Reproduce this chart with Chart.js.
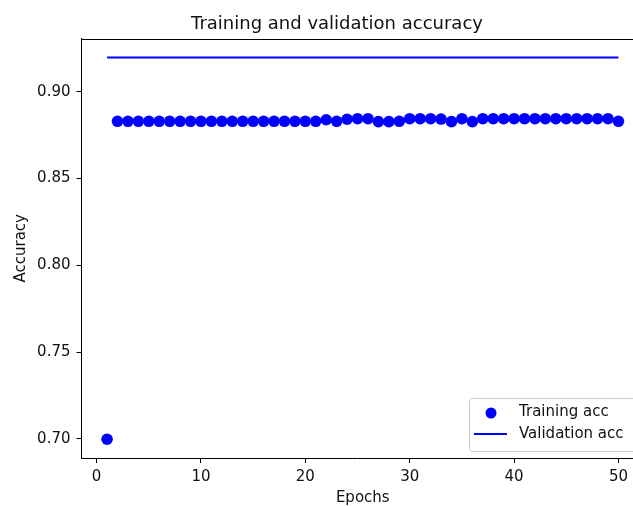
<!DOCTYPE html>
<html>
<head>
<meta charset="utf-8">
<script src="https://cdn.jsdelivr.net/npm/chart.js@4/dist/chart.umd.min.js"></script>
<style>
  html, body { margin: 0; padding: 0; background: #fff; overflow: hidden; }
  canvas { display: block; }
</style>
</head>
<body>
<canvas id="chart" width="633" height="506"></canvas>
<script>
const epochs = [1, 2, 3, 4, 5, 6, 7, 8, 9, 10, 11, 12, 13, 14, 15, 16, 17, 18, 19, 20,
    21, 22, 23, 24, 25, 26, 27, 28, 29, 30, 31, 32, 33, 34, 35, 36, 37, 38, 39, 40,
    41, 42, 43, 44, 45, 46, 47, 48, 49, 50];

const trainingAcc = [0.6998, 0.8829, 0.8829, 0.8829, 0.8829, 0.8829, 0.8829, 0.8829, 0.8829, 0.8829,
    0.8829, 0.8829, 0.8829, 0.8829, 0.8829, 0.8829, 0.8829, 0.8829, 0.8829, 0.8829,
    0.8829, 0.8838, 0.8829, 0.8841, 0.8844, 0.8844, 0.8827, 0.8827, 0.8829, 0.8844,
    0.8844, 0.8844, 0.8842, 0.8827, 0.8844, 0.8827, 0.8844, 0.8844, 0.8844, 0.8844,
    0.8844, 0.8844, 0.8844, 0.8844, 0.8844, 0.8844, 0.8844, 0.8844, 0.8844, 0.8829];

const validationAcc = [0.9196, 0.9196, 0.9196, 0.9196, 0.9196, 0.9196, 0.9196, 0.9196, 0.9196, 0.9196,
    0.9196, 0.9196, 0.9196, 0.9196, 0.9196, 0.9196, 0.9196, 0.9196, 0.9196, 0.9196,
    0.9196, 0.9196, 0.9196, 0.9196, 0.9196, 0.9196, 0.9196, 0.9196, 0.9196, 0.9196,
    0.9196, 0.9196, 0.9196, 0.9196, 0.9196, 0.9196, 0.9196, 0.9196, 0.9196, 0.9196,
    0.9196, 0.9196, 0.9196, 0.9196, 0.9196, 0.9196, 0.9196, 0.9196, 0.9196, 0.9196];

const xTicks = [0, 10, 20, 30, 40, 50];
const yTicks = [0.70, 0.75, 0.80, 0.85, 0.90];

const FONT = 'DejaVu Sans';
const INK = '#111';
const AXES_RIGHT = 644; // the original axes run past the cropped right edge

// stretch the plot area past the canvas edge, like the cropped original
const cropRight = {
    id: 'cropRight',
    afterLayout(chart) {
        const x = chart.scales.x;
        x.right = AXES_RIGHT;
        x.width = x.right - x.left;
        x.configure();
        chart.chartArea.right = AXES_RIGHT;
        chart.chartArea.width = AXES_RIGHT - chart.chartArea.left;
    }
};

// matplotlib-like title, top spine and legend
const extras = {
    id: 'extras',
    afterDatasetsDraw(chart) {
        const ctx = chart.ctx;
        const a = chart.chartArea;
        ctx.save();
        ctx.fillStyle = '#000';
        ctx.fillRect(Math.round(a.left), Math.round(a.top), chart.width - Math.round(a.left), 1);

        // title
        ctx.fillStyle = INK;
        ctx.font = '18px "' + FONT + '"';
        ctx.textAlign = 'center';
        ctx.textBaseline = 'middle';
        ctx.fillText('Training and validation accuracy', 337, 24);

        // legend box, open on the cropped right side
        const bx = 469.5, by = 398.5, bh = 53, r = 3, bxR = chart.width + 2;
        ctx.fillStyle = 'rgba(255,255,255,0.8)';
        ctx.strokeStyle = '#cccccc';
        ctx.lineWidth = 1;
        ctx.beginPath();
        ctx.moveTo(bxR, by);
        ctx.lineTo(bx + r, by);
        ctx.arcTo(bx, by, bx, by + r, r);
        ctx.lineTo(bx, by + bh - r);
        ctx.arcTo(bx, by + bh, bx + r, by + bh, r);
        ctx.lineTo(bxR, by + bh);
        ctx.fill();
        ctx.stroke();

        const ds = chart.data.datasets;
        ctx.font = '15px "' + FONT + '"';
        ctx.textAlign = 'left';
        ctx.textBaseline = 'middle';
        // training entry: marker
        ctx.fillStyle = ds[0].backgroundColor;
        ctx.beginPath();
        ctx.arc(491, 413, 5.5, 0, Math.PI * 2);
        ctx.fill();
        ctx.fillStyle = INK;
        ctx.fillText(ds[0].label, 519, 412);
        // validation entry: line
        ctx.strokeStyle = ds[1].borderColor;
        ctx.lineWidth = 2;
        ctx.beginPath();
        ctx.moveTo(474, 434);
        ctx.lineTo(507, 434);
        ctx.stroke();
        ctx.fillText(ds[1].label, 519, 434);
        ctx.restore();
    }
};

new Chart(document.getElementById('chart'), {
    type: 'line',
    data: {
        datasets: [
            {
                label: 'Training acc',
                data: epochs.map((e, i) => ({ x: e, y: trainingAcc[i] })),
                showLine: false,
                pointRadius: 5.8,
                pointHoverRadius: 5.8,
                pointBorderWidth: 0,
                backgroundColor: '#0000ff',
                borderColor: '#0000ff'
            },
            {
                label: 'Validation acc',
                data: epochs.map((e, i) => ({ x: e, y: validationAcc[i] })),
                pointRadius: 0,
                borderColor: '#0000ff',
                backgroundColor: '#0000ff',
                borderWidth: 2,
                tension: 0
            }
        ]
    },
    options: {
        responsive: false,
        animation: false,
        devicePixelRatio: 1,
        layout: { padding: { top: 38.5, right: 0, left: 0, bottom: 0 } },
        plugins: {
            legend: { display: false },
            title: { display: false },
            tooltip: { enabled: false }
        },
        scales: {
            x: {
                type: 'linear',
                min: -1.45,
                max: 52.45,
                afterBuildTicks: s => { s.ticks = xTicks.map(v => ({ value: v })); },
                afterFit: s => { s.height = 48; s.paddingLeft = 0; s.paddingRight = 0; },
                grid: { drawOnChartArea: false, drawTicks: true, tickLength: 5, tickColor: '#000', tickWidth: 1 },
                border: { display: true, color: '#000', width: 1 },
                ticks: {
                    color: INK,
                    padding: 5,
                    maxRotation: 0,
                    font: { family: FONT, size: 15 },
                    callback: v => String(v)
                },
                title: {
                    display: true,
                    text: 'Epochs',
                    color: INK,
                    font: { family: FONT, size: 15, lineHeight: 1 },
                    padding: { top: 0, bottom: 0.5 }
                }
            },
            y: {
                min: 0.689,
                max: 0.9306,
                afterBuildTicks: s => { s.ticks = yTicks.map(v => ({ value: v })); },
                afterFit: s => { s.width = 81.5; s.paddingTop = 0; s.paddingBottom = 0; },
                grid: { drawOnChartArea: false, drawTicks: true, tickLength: 5, tickColor: '#000', tickWidth: 1 },
                border: { display: true, color: '#000', width: 1 },
                ticks: {
                    color: INK,
                    padding: 6,
                    font: { family: FONT, size: 15 },
                    callback: v => v.toFixed(2)
                },
                title: {
                    display: true,
                    text: 'Accuracy',
                    color: INK,
                    font: { family: FONT, size: 15, lineHeight: 1 },
                    padding: { top: 13.5, bottom: 0 }
                }
            }
        }
    },
    plugins: [cropRight, extras]
});
</script>
</body>
</html>
